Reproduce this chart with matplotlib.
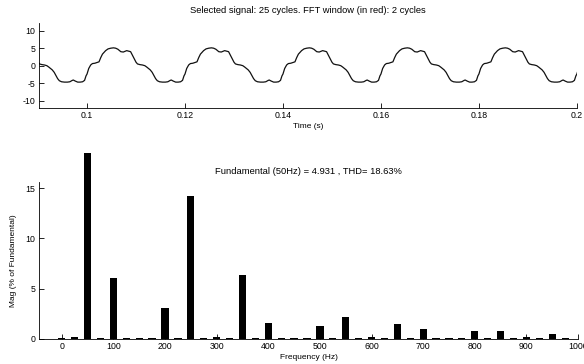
import matplotlib
matplotlib.use('Agg')
import matplotlib.pyplot as plt
import numpy as np

plt.rcParams['font.family'] = ['Liberation Sans', 'DejaVu Sans']
plt.rcParams['font.size'] = 5.6
plt.rcParams['xtick.labelsize'] = 6.3
plt.rcParams['ytick.labelsize'] = 6.3
plt.rcParams['axes.labelsize'] = 6.0
plt.rcParams['axes.unicode_minus'] = False
plt.rcParams['xtick.direction'] = 'in'
plt.rcParams['ytick.direction'] = 'in'
plt.rcParams['xtick.major.size'] = 3.4
plt.rcParams['ytick.major.size'] = 3.4
plt.rcParams['xtick.major.width'] = 0.6
plt.rcParams['ytick.major.width'] = 0.6
plt.rcParams['axes.linewidth'] = 0.6

# one cycle of the time signal (ms from cycle start, value)
cycle_ms = [0.0, 0.35, 0.75, 1.1, 1.6, 2.0, 2.45, 2.8, 3.15, 3.8, 4.3, 4.85, 5.4, 5.85,
            6.3, 6.9, 7.4, 8.1, 8.6, 8.9, 9.2, 9.6, 10.0, 10.3, 10.8, 11.3, 11.8, 12.2,
            12.9, 13.3, 13.7, 14.0, 14.35, 14.8, 15.4, 16.0, 16.5, 17.0, 17.2, 17.6,
            18.1, 18.6, 19.1, 19.5, 19.8]
cycle_val = [-2.4, -0.8, 0.2, 0.6, 0.7, 0.9, 1.1, 2.3, 3.3, 4.3, 4.8, 5.0, 5.1, 5.0,
             4.7, 4.0, 3.9, 4.3, 4.1, 4.0, 3.2, 2.1, 1.0, 0.5, 0.3, 0.2, 0.0, -0.4,
             -1.2, -1.9, -2.9, -3.7, -4.3, -4.6, -4.7, -4.7, -4.6, -4.2, -4.1, -4.4,
             -4.7, -4.7, -4.6, -4.2, -2.9]
cycle_starts = [0.08, 0.10, 0.12, 0.14, 0.16, 0.18, 0.20]

# FFT bins (Hz) and magnitudes (% of fundamental)
freqs = [0, 25, 50, 75, 100, 125, 150, 175, 200, 225, 250, 275, 300, 325, 350, 375,
         400, 425, 450, 475, 500, 525, 550, 575, 600, 625, 650, 675, 700, 725, 750,
         775, 800, 825, 850, 875, 900, 925, 950, 975]
mags = [0.05, 0.2, 18.45, 0.1, 6.06, 0.1, 0.1, 0.1, 3.08, 0.1, 14.17, 0.1, 0.2, 0.1,
        6.39, 0.1, 1.59, 0.1, 0.1, 0.1, 1.32, 0.1, 2.19, 0.1, 0.2, 0.1, 1.49, 0.1,
        0.99, 0.1, 0.1, 0.1, 0.83, 0.1, 0.76, 0.1, 0.15, 0.1, 0.53, 0.1]

t = np.concatenate([s + np.array(cycle_ms) / 1000 for s in cycle_starts])
v = np.concatenate([cycle_val for s in cycle_starts])

fig = plt.figure(figsize=(5.84, 3.64), dpi=100)
ax1 = fig.add_axes([0.0668, 0.7033, 0.921, 0.2335])
ax2 = fig.add_axes([0.0668, 0.0687, 0.923, 0.4313])

for ax in (ax1, ax2):
    ax.spines['top'].set_visible(False)
    ax.spines['right'].set_visible(False)
    ax.tick_params(pad=2.5)

ax1.plot(t, v, color='#111111', lw=0.9)
ax1.set_xlim(0.0902, 0.2)
ax1.set_ylim(-12.1, 12.2)
ax1.set_xticks([0.1, 0.12, 0.14, 0.16, 0.18, 0.2])
ax1.set_xticklabels(['0.1', '0.12', '0.14', '0.16', '0.18', '0.2'])
ax1.set_yticks([-10, -5, 0, 5, 10])
ax1.set_xlabel('Time (s)', labelpad=1.5)
ax1.set_title('Selected signal: 25 cycles. FFT window (in red): 2 cycles', pad=7)

ax2.set_axisbelow(True)
ax2.bar(freqs, mags, width=14, color='black', clip_on=False)
ax2.set_xlim(-44, 1000)
ax2.set_ylim(0, 15.6)
ax2.set_xticks(range(0, 1001, 100))
ax2.set_yticks([0, 5, 10, 15])
ax2.set_xlabel('Frequency (Hz)', labelpad=1.5)
ax2.set_ylabel('Mag (% of Fundamental)', labelpad=6)
ax2.set_title('Fundamental (50Hz) = 4.931 , THD= 18.63%', pad=6)

fig.savefig('out.png', dpi=100)
